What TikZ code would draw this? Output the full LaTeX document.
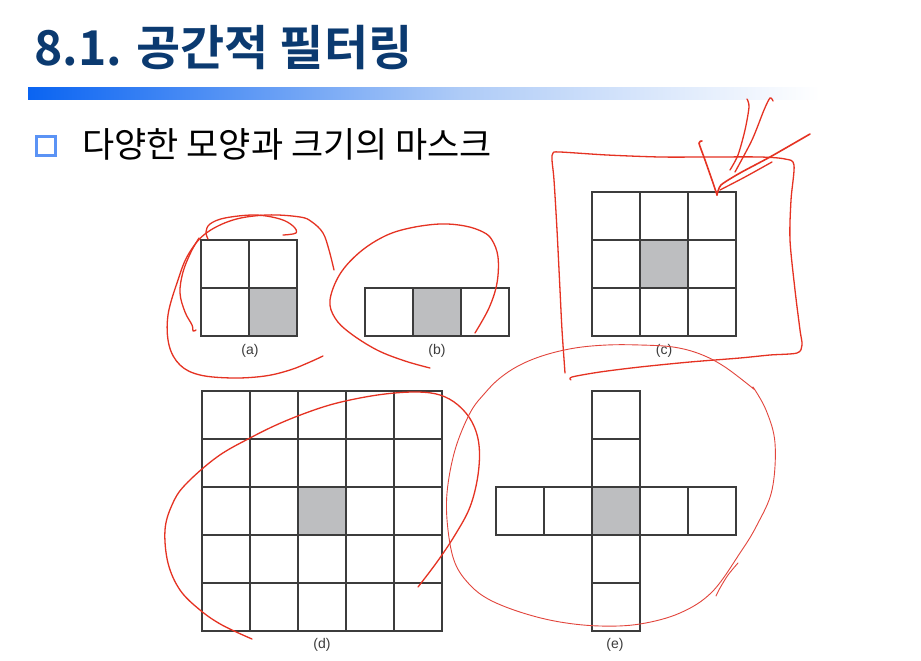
\documentclass[tikz,border=0pt]{standalone}
\usepackage{fontspec}
\newfontfamily\kr{Noto Sans CJK KR}[BoldFont={Noto Sans CJK KR Bold}]
\newfontfamily\lab{Liberation Sans}
\definecolor{titleblue}{HTML}{0B3A70}
\definecolor{barblue}{HTML}{0A64F2}
\definecolor{barlight}{HTML}{AECBF7}
\definecolor{bulletblue}{HTML}{5B93F5}
\definecolor{gridline}{HTML}{3C3C3C}
\definecolor{cellgray}{HTML}{BDBEC0}
\definecolor{ink}{HTML}{E53222}
\definecolor{thinink}{HTML}{E2453C}
\tikzset{
  gridstroke/.style={draw=gridline, line width=1.3pt},
  shadecell/.style={fill=cellgray},
  caption/.style={font=\lab\fontsize{14}{14}\selectfont, text=gridline, inner sep=0pt},
  pen/.style={draw=ink, line width=1.3pt, line cap=round, line join=round},
  thinpen/.style={draw=thinink, line width=0.9pt, line cap=round, line join=round},
}
\newcommand{\cellgrid}[4]{% x0 y0 cols rows
  \foreach \ci in {1,...,#3}{\foreach \cj in {1,...,#4}{
    \draw[gridstroke] ({#1+48*(\ci-1)},{#2+48*(\cj-1)}) rectangle ++(48,48);}}}
\begin{document}
\begin{tikzpicture}[x=1pt,y=-1pt]
\useasboundingbox (0,0) rectangle (921,661);
\fill[white] (0,0) rectangle (921,661);
% title
\node[anchor=base west, inner sep=0pt, text=titleblue, font=\kr\bfseries\fontsize{48}{48}\selectfont] (title) at (34,66) {8.1. 공간적 필터링};
% gradient bar
\shade[left color=barblue, right color=barlight] (28,87) rectangle (460,99);
\shade[left color=barlight, right color=white] (459.5,87) rectangle (820,99);
% bullet
\draw[draw=bulletblue, line width=3.5pt] (36.5,136.5) rectangle (55.5,155.5);
\node[anchor=base west, inner sep=0pt, font=\kr\fontsize{35}{35}\selectfont] (bullettext) at (82,157) {다양한 모양과 크기의 마스크};
% shaded cells
\fill[shadecell] (249,288) rectangle (297,336);
\fill[shadecell] (413,288) rectangle (461,336);
\fill[shadecell] (640,240) rectangle (688,288);
\fill[shadecell] (298,487) rectangle (346,535);
\fill[shadecell] (592,487) rectangle (640,535);
% grids
\cellgrid{201}{240}{2}{2}
\cellgrid{365}{288}{3}{1}
\cellgrid{592}{192}{3}{3}
\cellgrid{202}{391}{5}{5}
\cellgrid{496}{487}{5}{1}
\cellgrid{592}{391}{1}{5}
% captions
\node[caption] (capa) at (250,351) {(a)};
\node[caption] (capb) at (437,351) {(b)};
\node[caption] (capc) at (664,351) {(c)};
\node[caption] (capd) at (322,645) {(d)};
\node[caption] (cape) at (615,645) {(e)};
% red annotations
\draw[pen] plot[smooth, tension=0.6] coordinates {(334,270) (329,250) (323,233) (312,222) (300,217) (267,215) (233,220) (205,234) (188,255) (178,280) (168,315) (169,345) (180,365) (200,375) (233,378) (265,376) (290,370) (310,362) (323,356)};
\draw[pen] plot[smooth, tension=0.6] coordinates {(283,235) (296,233) (293,226) (280,219) (255,215) (225,218) (210,224) (206,232) (208,239)};
\draw[pen] plot[smooth, tension=0.6] coordinates {(199,238) (191,252) (183,272) (180,293) (185,312) (192,325) (193,331) (196,330)};
\draw[pen] plot[smooth, tension=0.6] coordinates {(475,333) (489,308) (497,283) (498,257) (492,240) (483,232) (465,226) (440,224) (410,228) (385,236) (360,252) (340,274) (330,300) (335,318) (350,333) (377,350) (405,361) (430,368)};
\draw[pen] plot[smooth, tension=0.5] coordinates {(565,373) (562,330) (560,290) (557,230) (554,180) (552,160) (553,153) (560,152) (607,155) (660,157) (707,157) (760,157) (785,159) (794,165) (791,200) (790,240) (795,290) (800,330) (802,345) (797,353) (770,355) (740,358) (690,362) (640,367) (600,372) (572,377) (571,380)};
\draw[pen, line width=1.6pt] plot[smooth, tension=0.4] coordinates {(702,141) (699,143) (705,160) (712,180) (717,195)};
\draw[pen, line width=1.6pt] plot[smooth, tension=0.4] coordinates {(717,195) (721,185) (740,173) (770,157) (810,134)};
\draw[pen] plot[smooth, tension=0.4] coordinates {(720,190) (745,177) (772,162)};
\draw[pen] plot[smooth, tension=0.5] coordinates {(747,99) (749,107) (745,130) (738,155) (730,170)};
\draw[pen] plot[smooth, tension=0.5] coordinates {(773,101) (770,98) (764,110) (752,140) (735,172)};
\draw[pen] plot[smooth, tension=0.6] coordinates {(252,639) (222,625) (200,610) (180,590) (168,563) (165,530) (172,505) (185,485) (217,457) (250,438) (283,422) (320,408) (350,400) (385,394) (417,392) (440,395) (458,405) (472,422) (479,445) (478,475) (470,507) (455,535) (437,562) (418,587)};
\draw[thinpen] plot[smooth, tension=0.6] coordinates {(753,387) (766,410) (775,443) (772,490) (757,525) (740,553) (712,592) (680,613) (640,624) (600,626) (560,622) (523,613) (490,600) (470,585) (455,563) (448,530) (447,493) (455,450) (470,413) (485,393) (500,378) (520,365) (545,355) (575,348) (607,345) (640,345) (673,347) (700,354) (725,367) (755,390)};
\draw[thinpen] plot[smooth, tension=0.5] coordinates {(738,563) (728,575) (720,588) (716,596)};
\end{tikzpicture}
\end{document}
